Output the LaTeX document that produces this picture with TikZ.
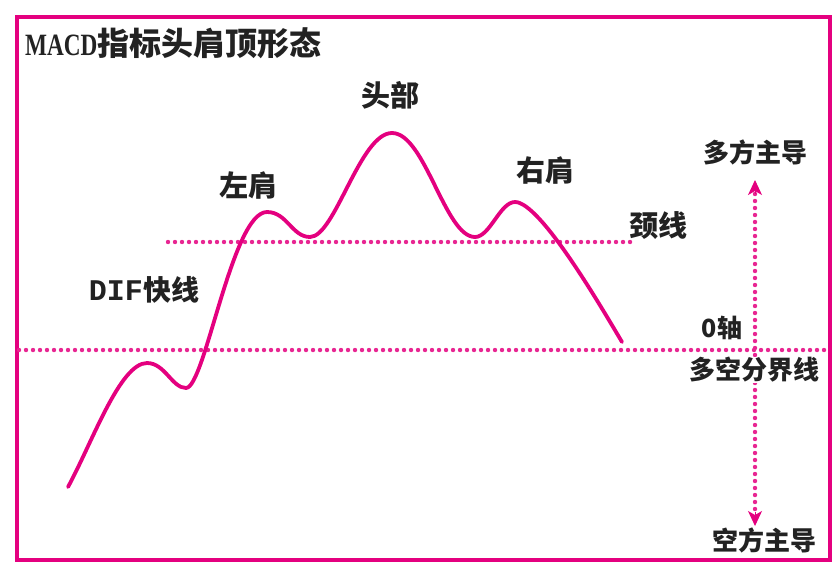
\documentclass[tikz,border=0pt]{standalone}
\usepackage{fontspec}
\newfontfamily\cjk{Noto Sans CJK SC}
\newfontfamily\serc{Liberation Serif}[FakeStretch=0.75]
\newfontfamily\monof{Liberation Mono}
\usetikzlibrary{arrows.meta}
\definecolor{mag}{RGB}{228,0,127}
\definecolor{txt}{RGB}{34,34,34}
\begin{document}
\begin{tikzpicture}[x=1pt,y=-1pt,
 lbl/.style={inner sep=0pt, text=txt, font=\cjk\bfseries\fontsize{29}{29}\selectfont},
 sml/.style={inner sep=0pt, text=txt, font=\cjk\bfseries\fontsize{26}{26}\selectfont},
 curve/.style={mag, line width=3.8pt, line cap=round, line join=round},
 dotline/.style={mag!85, line width=4.4pt, line cap=round, dash pattern=on 0pt off 7pt},
 tipline/.style={mag, line width=1pt, -{Stealth[length=15pt,width=14pt,inset=4pt]}}]
\useasboundingbox (0,0) rectangle (837,574);
\fill[white] (0,0) rectangle (837,574);
\draw[mag, line width=3.5pt] (17,17) rectangle (830,560);

% axes
\coordinate (z0) at (19,350);
\coordinate (z1) at (829,350);
\draw[dotline] (z0) -- (z1);
\coordinate (n0) at (168,242);
\coordinate (n1) at (635,242);
\draw[dotline] (n0) -- (n1);

% DIF curve
\coordinate (p0) at (68,487);
\coordinate (p1) at (147,363);
\coordinate (p2) at (186,388);
\coordinate (p3) at (267,212);
\coordinate (p4) at (310,237);
\coordinate (p5) at (392,133);
\coordinate (p6) at (475,237);
\coordinate (p7) at (515,202);
\coordinate (p8) at (622,342);
\draw[curve] (p0) .. controls (92,443) and (120,363) .. (p1)
  .. controls (165,363) and (172,388) .. (p2)
  .. controls (205,388) and (232,212) .. (p3)
  .. controls (287,212) and (292,237) .. (p4)
  .. controls (335,237) and (360,133) .. (p5)
  .. controls (425,133) and (445,237) .. (p6)
  .. controls (490,237) and (500,202) .. (p7)
  .. controls (540,202) and (600,305) .. (p8);

% vertical arrow
\coordinate (vt) at (755,180);
\coordinate (vts) at (755,194);
\coordinate (vb) at (755,526);
\coordinate (vbs) at (755,512);
\draw[dotline] (vts) -- (vbs);
\draw[tipline] (vts) -- (vt);
\draw[tipline] (vbs) -- (vb);

% labels
\node[anchor=west, inner sep=0pt, text=txt] (title) at (25,43)
  {\bfseries{\serc\fontsize{31}{31}\selectfont MACD}{\cjk\fontsize{32}{32}\selectfont 指标头肩顶形态}};
\node[lbl] (head) at (390,95) {头部};
\node[lbl] (ls) at (248,185) {左肩};
\node[lbl] (rs) at (545,170) {右肩};
\node[lbl] (neck) at (658,226) {颈线};
\node[lbl, font=\cjk\bfseries\fontsize{28}{28}\selectfont] (dif) at (144,290) {{\monof\bfseries\fontsize{30}{30}\selectfont DIF}快线};
\node[sml] (bull) at (755,152) {多方主导};
\node[sml, font=\cjk\bfseries\fontsize{25}{25}\selectfont] (zero) at (722,328) {0轴};
\node[sml, fill=white, inner xsep=2pt] (split) at (754,370) {多空分界线};
\node[sml] (bear) at (764,540) {空方主导};
\end{tikzpicture}
\end{document}
